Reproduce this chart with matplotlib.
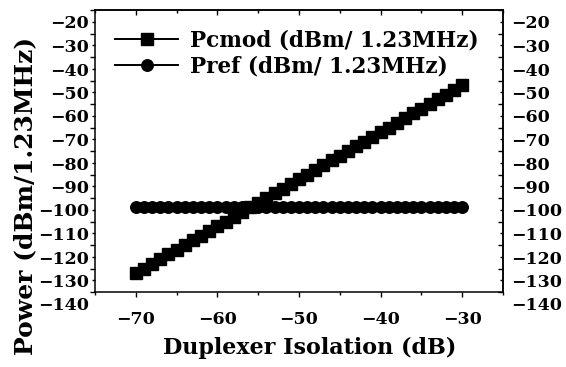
import matplotlib
matplotlib.use("Agg")
import matplotlib.pyplot as plt
from matplotlib.transforms import ScaledTranslation

plt.rcParams['font.family'] = ['DejaVu Serif']
plt.rcParams['font.weight'] = 'bold'

isolation = [-70, -69, -68, -67, -66, -65, -64, -63, -62, -61, -60, -59, -58, -57,
             -56, -55, -54, -53, -52, -51, -50, -49, -48, -47, -46, -45, -44, -43,
             -42, -41, -40, -39, -38, -37, -36, -35, -34, -33, -32, -31, -30]
pcmod = [-132, -130, -128, -126, -124, -122, -120, -118, -116, -114, -112, -110,
         -108, -106, -104, -102, -100, -98, -96, -94, -92, -90, -88, -86, -84,
         -82, -80, -78, -76, -74, -72, -70, -68, -66, -64, -62, -60, -58, -56,
         -54, -52]
pref = [-104] * 41

x_ticks = [-70, -60, -50, -40, -30]
x_minor = [-75, -65, -55, -45, -35, -25]
y_ticks = [-140, -130, -120, -110, -100, -90, -80, -70, -60, -50, -40, -30, -20]
y_minor = [-135, -125, -115, -105, -95, -85, -75, -65, -55, -45, -35, -25]
series_labels = ['Pcmod (dBm/ 1.23MHz)', 'Pref (dBm/ 1.23MHz)']
x_label = 'Duplexer Isolation (dB)'
y_label = 'Power (dBm/1.23MHz)'

W, H = 566, 367
fig = plt.figure(figsize=(W / 100, H / 100), dpi=100)
ax = fig.add_axes([95 / W, 1 - 292 / H, (503 - 95) / W, (292 - 10) / H])

ax.plot(isolation, pcmod, color='black', lw=1.4, marker='s', ms=8.0,
        label=series_labels[0])
ax.plot(isolation, pref, color='black', lw=1.4, marker='o', ms=8.3,
        label=series_labels[1])

ax.set_xlim(-75, -25)
ax.set_ylim(-140, -20)
for s in ax.spines.values():
    s.set_linewidth(1.1)

ax.set_xticks(x_ticks)
ax.set_xticks(x_minor, minor=True)
ax.set_yticks(y_ticks)
ax.set_yticks(y_minor, minor=True)
ax.tick_params(axis='both', which='major', direction='out', length=3.6, width=1.0,
               labelsize=12.5, top=False, right=False)
ax.tick_params(axis='both', which='minor', direction='out', length=2.4, width=1.0,
               top=False, right=False)
ax.tick_params(axis='x', which='major', pad=10)
ax.tick_params(axis='y', which='major', pad=0.5)

secx = ax.secondary_xaxis('top')
secx.set_xticks(x_ticks)
secx.set_xticks(x_minor, minor=True)
secx.tick_params(axis='x', which='major', direction='in', length=3.6, width=1.0,
                 labeltop=False)
secx.tick_params(axis='x', which='minor', direction='in', length=2.4, width=1.0)
secx.spines['top'].set_linewidth(1.1)

secy = ax.secondary_yaxis('right')
secy.set_yticks(y_ticks)
secy.set_yticks(y_minor, minor=True)
secy.tick_params(axis='y', which='major', direction='in', length=3.6, width=1.0,
                 labelsize=12.5, pad=5.8)
secy.tick_params(axis='y', which='minor', direction='in', length=2.4, width=1.0)
secy.spines['right'].set_linewidth(1.1)

# tick labels sit about half an interval below their ticks in the reference
off = ScaledTranslation(0, -0.12, fig.dpi_scale_trans)
for t in ax.yaxis.get_major_ticks(len(y_ticks)):
    t.label1.set_transform(t.label1.get_transform() + off)
for t in secy.yaxis.get_major_ticks(len(y_ticks)):
    t.label2.set_transform(t.label2.get_transform() + off)
    t.label1.set_transform(t.label1.get_transform() + off)

leg = ax.legend(loc='upper left', bbox_to_anchor=(115 / W, 1 - 30 / H),
                bbox_transform=fig.transFigure, frameon=False, fontsize=15.5,
                handlelength=2.93, handletextpad=0.56, borderpad=0,
                borderaxespad=0, labelspacing=0.18)

fig.text(310 / W, 1 - 348 / H, x_label, ha='center', va='center', fontsize=16,
         fontweight='bold')
fig.text(25 / W, 1 - 196 / H, y_label, ha='center', va='center', fontsize=18,
         fontweight='bold', rotation=90)

fig.savefig('out.png', dpi=100)
